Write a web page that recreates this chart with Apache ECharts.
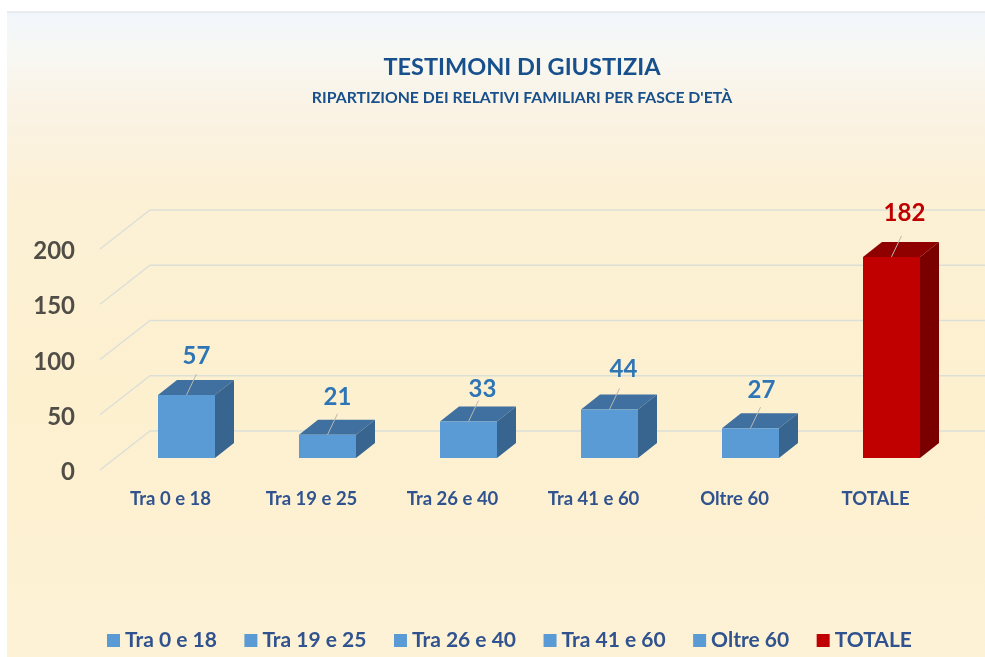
<!DOCTYPE html>
<html>
<head>
<meta charset="utf-8">
<style>html,body{margin:0;padding:0;background:#fff}#c{width:985px;height:657px}</style>
<script src="https://cdn.jsdelivr.net/npm/echarts@6/dist/echarts.min.js"></script>
</head>
<body>
<div id="c"></div>
<script>
const categories = ['Tra 0 e 18', 'Tra 19 e 25', 'Tra 26 e 40', 'Tra 41 e 60', 'Oltre 60', 'TOTALE'];
const values = [57, 21, 33, 44, 27, 182];
const yTicks = [0, 50, 100, 150, 200];

const FONT = 'Lato, "Open Sans", sans-serif';
const BLUE = { front: '#5b9bd5', top: '#3f709f', side: '#38658f', label: '#2e75b6' };
const RED = { front: '#c00000', top: '#8f0000', side: '#7a0000', label: '#c00000' };
const WALL = [50, -39];      // floor front edge -> back wall
const BAR_SHIFT = [16, -12]; // floor front edge -> bar front face
const DEPTH = [19, -15];     // bar depth
const BAR_W = 57;
const LABEL_DY = [40, 39, 33, 41, 39, 45];
const LABEL_DX = [10, 10, 14, 14, 11, 13];

const chart = echarts.init(document.getElementById('c'), null, { renderer: 'canvas' });

const wallSeries = {
  type: 'custom', name: 'griglia', silent: true, z: 1, clip: false,
  data: yTicks.map(v => [0, v]),
  encode: { x: 0, y: 1 },
  renderItem(params, api) {
    const y = api.coord([0, api.value(1)])[1];
    const x0 = params.coordSys.x;
    const x1 = x0 + WALL[0], y1 = y + WALL[1];
    const lineStyle = { stroke: '#dcdfd8', lineWidth: 1.4, fill: null };
    return {
      type: 'group',
      children: [
        { type: 'polyline', shape: { points: [[x0, y], [x1, y1], [params.coordSys.x + params.coordSys.width + WALL[0], y1]] }, style: lineStyle }
      ]
    };
  }
};

const barSeries = categories.map((name, i) => {
  const c = name === 'TOTALE' ? RED : BLUE;
  return {
    type: 'custom', name, silent: true, z: 2, clip: false,
    itemStyle: { color: c.front },
    data: [[i, values[i]]],
    encode: { x: 0, y: 1 },
    renderItem(params, api) {
      const base = api.coord([api.value(0), 0]);
      const top = api.coord([api.value(0), api.value(1)]);
      const l = base[0] - BAR_W / 2 + BAR_SHIFT[0], r = l + BAR_W;
      const b = base[1] + BAR_SHIFT[1], t = top[1] + BAR_SHIFT[1];
      const dx = DEPTH[0], dy = DEPTH[1];
      const cx = (l + r) / 2;
      return {
        type: 'group',
        children: [
          { type: 'polygon', shape: { points: [[l, t], [r, t], [r + dx, t + dy], [l + dx, t + dy]] }, style: { fill: c.top } },
          { type: 'polygon', shape: { points: [[r, t], [r + dx, t + dy], [r + dx, b + dy], [r, b]] }, style: { fill: c.side } },
          { type: 'rect', shape: { x: l, y: t, width: BAR_W, height: b - t }, style: { fill: c.front } },
          { type: 'line', shape: { x1: cx, y1: t, x2: cx + 10, y2: t - 21 }, style: { stroke: '#b9b9b0', lineWidth: 1 } },
          { type: 'text', style: { text: String(api.value(1)), x: cx + LABEL_DX[i], y: t - LABEL_DY[i] + 1, align: 'center', verticalAlign: 'middle', fill: c.label, font: 'bold 24px ' + FONT } }
        ]
      };
    }
  };
});

chart.setOption({
  animation: false,
  tooltip: { show: false },
  graphic: [
    { type: 'rect', z: -10, silent: true, shape: { x: 7, y: 12, width: 978, height: 645 },
      style: { fill: new echarts.graphic.LinearGradient(0, 0, 0, 1, [
        { offset: 0, color: '#f1f6fb' },
        { offset: 0.06, color: '#f7f8f4' },
        { offset: 0.14, color: '#faf3e6' },
        { offset: 0.28, color: '#fcf1d6' },
        { offset: 0.6, color: '#fdf0cf' },
        { offset: 1, color: '#fdf2d6' }
      ]) } },
    { type: 'line', z: -9, silent: true, shape: { x1: 7, y1: 12, x2: 985, y2: 12 }, style: { stroke: '#d6dbe3', lineWidth: 1 } }
  ],
  title: {
    text: 'TESTIMONI DI GIUSTIZIA',
    subtext: "RIPARTIZIONE DEI RELATIVI FAMILIARI PER FASCE D'ETÀ",
    left: 517, top: 50, textAlign: 'center', itemGap: 11,
    textStyle: { fontFamily: FONT, fontSize: 23.5, fontWeight: 'bold', color: '#17508c' },
    subtextStyle: { fontFamily: FONT, fontSize: 15.8, fontWeight: 'bold', color: '#17508c' }
  },
  legend: {
    data: categories, left: 102, top: 625, itemWidth: 13, itemHeight: 13, itemGap: 27.5,
    icon: 'rect', selectedMode: false,
    textStyle: { fontFamily: FONT, fontSize: 21, fontWeight: 'bold', color: '#30538f' }
  },
  grid: { left: 100, width: 846, top: 249, height: 221, containLabel: false },
  xAxis: {
    type: 'category', data: categories,
    axisLine: { show: false }, axisTick: { show: false }, splitLine: { show: false },
    axisLabel: { margin: 20, interval: 0, fontFamily: FONT, fontSize: 18.5, fontWeight: 'bold', color: '#30538f' }
  },
  yAxis: {
    type: 'value', min: 0, max: 200, interval: 50,
    axisLine: { show: false }, axisTick: { show: false }, splitLine: { show: false },
    axisLabel: {
      margin: 25, formatter: '{n|{value}}',
      rich: { n: { padding: [5, 0, 0, 0], fontFamily: FONT, fontSize: 24, fontWeight: 'bold', color: '#504c46' } }
    }
  },
  series: [wallSeries, ...barSeries]
});
</script>
</body>
</html>
